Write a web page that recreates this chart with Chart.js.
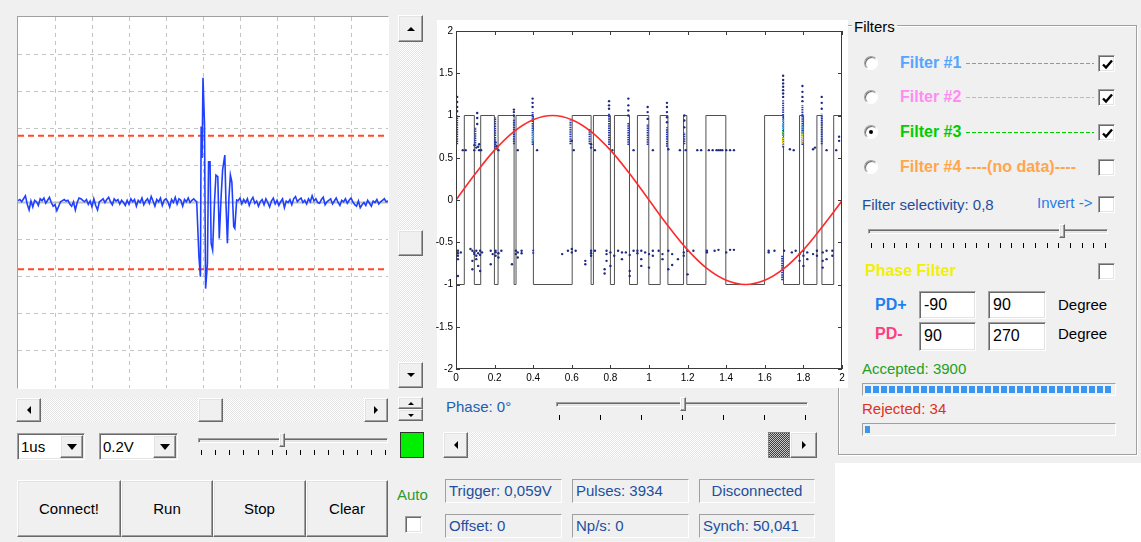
<!DOCTYPE html>
<html lang="en">
<head>
<meta charset="UTF-8">
<script src="https://cdn.jsdelivr.net/npm/chart.js"></script>
<title>Pulse analyser</title>
<style>
body{margin:0;width:1141px;height:542px;background:#f0f0f0;position:relative;overflow:hidden;font-family:"Liberation Sans",Arial,sans-serif;font-size:15px;color:#000}
.a{position:absolute;box-sizing:border-box}
.t{position:absolute;white-space:nowrap;line-height:18px}
.sunk{border:1px solid;border-color:#a0a0a0 #fff #fff #a0a0a0}
.sunk2{border:1px solid;border-color:#a0a0a0 #fff #fff #a0a0a0;box-shadow:inset 1px 1px 0 #696969,inset -1px -1px 0 #e3e3e3}
.raised{background:#f0f0f0;border:1px solid;border-color:#fff #696969 #696969 #fff;box-shadow:inset -1px -1px 0 #a0a0a0,inset 1px 1px 0 #e3e3e3}
.track{background:repeating-conic-gradient(#fff 0% 25%,#e4e4e4 0% 50%) 0 0/2px 2px}
.c{display:flex;align-items:center;justify-content:center}
.tu{width:0;height:0;border-left:4px solid transparent;border-right:4px solid transparent;border-bottom:4px solid #000}
.td{width:0;height:0;border-left:4px solid transparent;border-right:4px solid transparent;border-top:4px solid #000}
.tl{width:0;height:0;border-top:4px solid transparent;border-bottom:4px solid transparent;border-right:4px solid #000}
.tr{width:0;height:0;border-top:4px solid transparent;border-bottom:4px solid transparent;border-left:4px solid #000}
.cb{width:17px;height:17px;background:#fff}
.rd{width:14px;height:14px;border-radius:50%;background:#fff;border:1px solid;border-color:#a0a0a0 #fff #fff #a0a0a0;box-shadow:inset 1px 1px 0 #696969}
.stat{background:#f0f0f0;height:24px;padding-left:3px;line-height:22px;color:#1d4f9e;white-space:nowrap;overflow:hidden}
.fl{position:absolute;display:flex;white-space:nowrap;font-weight:bold;font-size:16px;line-height:18px;overflow:hidden}
.dash{flex:1;margin:9px 0 0 5px;height:1px;background:repeating-linear-gradient(90deg,currentColor 0 4px,transparent 4px 6px)}
.inp{background:#fff;font-size:16px;line-height:26px;padding-left:4px}
.pb{background:#f0f0f0}
</style>
</head>
<body>

<!-- oscilloscope -->
<div class="a sunk" style="left:17px;top:16px;width:372px;height:373px;background:#fff">
  <canvas id="scope" width="370" height="371" style="position:absolute;left:0;top:0"></canvas>
</div>

<!-- vertical scrollbar -->
<div class="a track" style="left:398px;top:15px;width:25px;height:373px"></div>
<div class="a raised c" style="left:398px;top:15px;width:25px;height:27px"><div class="tu"></div></div>
<div class="a raised" style="left:398px;top:230px;width:25px;height:26px"></div>
<div class="a raised c" style="left:398px;top:362px;width:25px;height:26px"><div class="td"></div></div>
<div class="a raised c" style="left:398px;top:397px;width:25px;height:12px"><div class="tu" style="border-width:0 3px 3px"></div></div>
<div class="a raised c" style="left:398px;top:409px;width:25px;height:12px"><div class="td" style="border-width:3px 3px 0"></div></div>
<div class="a" style="left:400px;top:432px;width:24px;height:26px;background:#00ee00;border:1px solid #303030"></div>

<!-- horizontal scrollbar left -->
<div class="a track" style="left:16px;top:398px;width:372px;height:24px"></div>
<div class="a raised c" style="left:16px;top:398px;width:25px;height:24px"><div class="tl"></div></div>
<div class="a raised" style="left:198px;top:398px;width:25px;height:24px"></div>
<div class="a raised c" style="left:364px;top:398px;width:24px;height:24px"><div class="tr"></div></div>

<!-- combos -->
<div class="a sunk2" style="left:17px;top:433px;width:68px;height:27px;background:#fff"><span class="t" style="left:3px;top:4px;font-size:15px">1us</span>
  <div class="a raised c" style="right:1px;top:1px;width:23px;height:23px"><div class="td" style="border-width:6px 5px 0"></div></div></div>
<div class="a sunk2" style="left:99px;top:433px;width:79px;height:27px;background:#fff"><span class="t" style="left:3px;top:4px;font-size:15px">0.2V</span>
  <div class="a raised c" style="right:1px;top:1px;width:23px;height:23px"><div class="td" style="border-width:6px 5px 0"></div></div></div>

<!-- buttons -->
<div class="a raised c" style="left:17px;top:480px;width:104px;height:57px">Connect!</div>
<div class="a raised c" style="left:121px;top:480px;width:92px;height:57px">Run</div>
<div class="a raised c" style="left:213px;top:480px;width:93px;height:57px">Stop</div>
<div class="a raised c" style="left:306px;top:480px;width:82px;height:57px">Clear</div>
<span class="t" style="left:397px;top:486px;color:#2e9a2e">Auto</span>
<div class="a cb sunk2" style="left:405px;top:516px"></div>

<!-- phase plot -->
<div class="a" style="left:437px;top:20px;width:411px;height:368px;background:#fff;z-index:2"></div>
<canvas id="phase" width="418" height="368" style="position:absolute;left:430px;top:20px;z-index:3"></canvas>

<span class="t" style="left:446px;top:398px;color:#2060b0">Phase: 0°</span>
<div class="a track" style="left:443px;top:432px;width:374px;height:26px"></div>
<div class="a raised c" style="left:443px;top:432px;width:25px;height:26px"><div class="tl"></div></div>
<div class="a" style="left:768px;top:432px;width:22px;height:26px;background:repeating-conic-gradient(#3c3c3c 0% 25%,#c8c8c8 0% 50%) 0 0/2px 2px;border:1px solid #808080"></div>
<div class="a raised c" style="left:790px;top:432px;width:27px;height:26px"><div class="tr"></div></div>

<div class="a sunk stat" style="left:445px;top:479px;width:117px">Trigger: 0,059V</div>
<div class="a sunk stat" style="left:572px;top:479px;width:117px">Pulses: 3934</div>
<div class="a sunk stat" style="left:699px;top:479px;width:116px;text-align:center;padding:0">Disconnected</div>
<div class="a sunk stat" style="left:445px;top:514px;width:117px">Offset: 0</div>
<div class="a sunk stat" style="left:572px;top:514px;width:117px">Np/s: 0</div>
<div class="a sunk stat" style="left:699px;top:514px;width:116px">Synch: 50,041</div>

<!-- filters -->
<div class="a" style="left:838px;top:25px;width:299px;height:430px;border:1px solid #a0a0a0;box-shadow:1px 1px 0 #fff,inset 1px 1px 0 #fff"></div>
<span class="t" style="left:852px;top:18px;background:#f0f0f0;padding:0 2px">Filters</span>

<span class="t" style="left:862px;top:196px;color:#1f4e9a">Filter selectivity: 0,8</span>
<span class="t" style="left:1037px;top:194px;color:#1e7ce8">Invert -&gt;</span>
<div class="a cb sunk2" style="left:1098px;top:196px"></div>
<span class="t" style="left:865px;top:262px;color:#f0f000;font-weight:bold;font-size:16px">Phase Filter</span>
<div class="a cb sunk2" style="left:1098px;top:263px"></div>

<span class="t" style="left:875px;top:296px;color:#1e7ff0;font-weight:bold;font-size:16px">PD+</span>
<div class="a sunk2 inp" style="left:919px;top:291px;width:57px;height:28px">-90</div>
<div class="a sunk2 inp" style="left:988px;top:291px;width:58px;height:28px">90</div>
<span class="t" style="left:1058px;top:296px">Degree</span>
<span class="t" style="left:875px;top:325px;color:#ff3d80;font-weight:bold;font-size:16px">PD-</span>
<div class="a sunk2 inp" style="left:919px;top:322px;width:57px;height:29px">90</div>
<div class="a sunk2 inp" style="left:988px;top:322px;width:58px;height:29px">270</div>
<span class="t" style="left:1058px;top:325px">Degree</span>

<span class="t" style="left:862px;top:360px;color:#22a022">Accepted: 3900</span>
<div class="a sunk pb" style="left:862px;top:383px;width:254px;height:13px;padding:2px">
  <div style="height:100%;width:100%;background:repeating-linear-gradient(90deg,#3a96ee 0 6px,transparent 6px 8px)"></div></div>
<span class="t" style="left:862px;top:400px;color:#e0301e">Rejected: 34</span>
<div class="a sunk pb" style="left:862px;top:423px;width:254px;height:13px;padding:2px">
  <div style="height:100%;width:5px;background:#3a96ee"></div></div>

<div class="a" style="left:835px;top:463px;width:306px;height:79px;background:#fff"></div>

<script>
// ---- oscilloscope trace (divisions) ----
var scopeStep = 0.05;
var preNoise = [0.05,0.08,0.02,0.1,0.18,-0.05,-0.2,0.04,-0.12,0.06,
  0.02,-0.08,0.1,0.05,0.12,-0.02,0.06,0.14,0.0,-0.1,
  -0.06,-0.22,-0.1,0.02,0.05,0.08,0.04,0.06,-0.04,-0.1,
  0.02,-0.2,0.0,0.12,0.1,0.06,0.02,0.08,-0.05,0.04,
  -0.12,0.1,-0.08,-0.2,0.02,0.06,0.1,0.0,0.08,0.14,
  0.02,-0.06,0.1,0.04,0.08,-0.04,0.06,0.0,-0.08,0.06,
  -0.05,0.1,0.02,0.08,-0.1,0.06,0.0,0.12,-0.06,0.04,
  0.1,-0.02,0.16,0.04,-0.1,0.08,0.02,0.12,-0.08,0.06,
  0.1,0.02,-0.12,0.08,0.0,0.14,-0.04,0.1,0.06,-0.1,
  0.08,0.02,0.12,0.0,0.06,0.1,0.04];
var preStart = 0;
var burstT = [4.83,4.89,4.93,4.95,4.975,5.0,5.04,5.07,5.12,5.15,5.19,5.22,5.26,5.31,5.35,5.40,5.44,5.49,5.53,5.59,5.62,5.66,5.70,5.74,5.78,5.83,5.86,5.91];
var burstV = [0.02,-1.46,-2.0,2.05,1.2,3.36,2.14,-2.32,-1.64,1.1,1.1,-1.1,-1.28,0.0,0.74,0.7,-0.97,0.16,0.88,1.28,0.0,-1.1,0.1,0.74,0.55,-0.65,-0.7,0.07];
var postNoise = [0.05,0.12,-0.04,0.08,0.0,0.1,-0.08,0.06,0.14,-0.02,
  0.04,-0.1,0.02,0.08,-0.06,0.1,0.0,-0.12,0.04,0.12,
  -0.04,0.06,-0.08,0.02,0.1,-0.14,0.04,0.0,0.08,-0.06,
  0.1,0.16,0.02,0.08,0.12,0.0,0.06,-0.04,0.1,0.02,
  0.18,0.04,0.1,0.0,-0.02,0.08,0.14,-0.06,0.02,0.06,
  0.1,-0.04,0.04,0.12,0.0,-0.08,0.06,0.02,0.1,-0.02,
  0.06,0.12,0.02,-0.06,-0.1,0.04,-0.14,-0.06,0.0,-0.08,
  0.06,-0.02,-0.1,0.04,0.0,0.08,-0.04,0.02,0.06,0.1,
  0.02,0.04];
var postStart = 5.95;
var triggerLevels = [1.8, -1.8];

// ---- phase plot ----
var phaseXTicks = ['0','0.2','0.4','0.6','0.8','1','1.2','1.4','1.6','1.8','2'];
var phaseYTicks = ['-2','-1.5','-1','-0.5','0','0.5','1','1.5','2'];
var sineX = [0,0.1,0.2,0.3,0.4,0.5,0.6,0.7,0.8,0.9,1,1.1,1.2,1.3,1.4,1.5,1.6,1.7,1.8,1.9,2];
var sineY = [0,0.31,0.59,0.81,0.95,1,0.95,0.81,0.59,0.31,0,-0.31,-0.59,-0.81,-0.95,-1,-0.95,-0.81,-0.59,-0.31,-0.01];
var squareEdges = [0.043,0.095,0.128,0.199,0.218,0.301,0.311,0.401,0.602,0.700,0.712,0.800,0.821,0.899,0.940,0.999,1.058,1.098,1.179,1.196,1.295,1.398,1.599,1.697,1.780,1.801,1.870,1.896,1.957];
var squareLevels = [-1,1,-1,1,-1,1,-1,1,-1,1,-1,1,-1,1,-1,1,-1,1,-1,1,-1,1,-1,1,-1,1,-1,1,-1,1];
var navyStreaks = [[0.006,0.66,1.0],[0.1,0.64,0.86],[0.203,0.62,0.98],[0.3,0.66,0.95],[0.397,0.65,1.04],
  [0.593,0.66,0.94],[0.692,0.66,0.84],[0.793,0.65,1.02],[0.893,0.65,0.92],[0.993,0.65,0.9],
  [1.093,0.63,0.86],[1.183,0.66,0.8],[1.695,0.62,1.18],[1.795,0.65,1.12],[1.895,0.66,1.02],
  [1.69,-0.66,-0.95],[0.4,-0.59,-0.64]];
var cyanStreaks = [[0.4,0.7,0.82],[1.695,0.84,0.96],[1.795,0.8,0.88]];
var yellowStreaks = [[1.695,0.64,0.74],[1.795,0.68,0.78]];
var greenStreaks = [[1.695,0.76,0.82],[1.795,0.78,0.8]];
var topDots = [[0.006,1.05],[0.006,1.1],[0.006,1.16],[0.006,1.22],[0.11,0.9],[0.11,0.97],[0.11,1.03],
  [0.3,1.0],[0.3,1.04],[0.3,1.07],[0.397,1.1],[0.397,1.15],[0.397,1.2],[0.793,1.08],[0.793,1.12],[0.793,1.17],
  [0.893,1.0],[0.893,1.06],[0.893,1.12],[0.893,1.2],[0.993,0.96],[0.993,1.04],[0.993,1.1],
  [1.093,0.92],[1.093,0.98],[1.093,1.04],[1.093,1.1],[1.093,1.15],[1.183,0.86],[1.183,0.94],[1.183,1.0],
  [1.695,1.22],[1.695,1.26],[1.695,1.3],[1.695,1.34],[1.695,1.38],[1.695,1.42],[1.695,1.47],
  [1.795,1.17],[1.795,1.22],[1.795,1.28],[1.795,1.35],[1.895,1.08],[1.895,1.15],[1.895,1.22],
  [1.985,0.7],[1.985,0.75],
  [0.035,0.59],[0.05,0.59],[0.095,0.59],[0.12,0.59],[0.13,0.59],[0.105,0.62],[0.22,0.59],[0.21,0.61],
  [0.32,0.59],[0.42,0.59],[0.61,0.59],[0.7,0.62],[0.72,0.59],[0.81,0.59],[0.92,0.59],[1.02,0.59],
  [1.1,0.6],[1.16,0.59],[1.19,0.59],[1.25,0.59],[1.27,0.59],[1.31,0.59],[1.33,0.59],[1.35,0.59],
  [1.36,0.59],[1.37,0.59],[1.38,0.59],[1.4,0.59],[1.42,0.59],[1.44,0.59],[1.73,0.6],[1.75,0.59],
  [1.85,0.6],[1.86,0.62],[1.92,0.59],[1.97,0.59],
  [0.095,0.65],[0.115,0.63],[0.12,0.66],[0.205,0.68],[0.21,0.64],[0.6,0.7],[0.7,0.66]];
var bottomDots = [[0.01,-0.6],[0.01,-0.63],[0.01,-0.66],[0.01,-0.7],[0.01,-0.9],[0.025,-0.62],
  [0.075,-0.58],[0.085,-0.6],[0.085,-0.72],[0.085,-0.82],[0.095,-0.62],[0.095,-0.64],[0.105,-0.6],
  [0.105,-0.66],[0.105,-0.7],[0.115,-0.63],[0.115,-0.78],[0.125,-0.6],[0.125,-0.65],[0.125,-0.84],[0.135,-0.62],
  [0.18,-0.6],[0.18,-0.76],[0.19,-0.64],[0.205,-0.6],[0.205,-0.62],[0.205,-0.66],[0.22,-0.63],[0.22,-0.68],[0.235,-0.6],
  [0.29,-0.76],[0.31,-0.6],[0.31,-0.64],[0.32,-0.62],[0.32,-0.68],[0.34,-0.6],[0.34,-0.63],
  [0.55,-0.64],[0.58,-0.6],[0.6,-0.62],[0.6,-0.58],[0.62,-0.6],
  [0.67,-0.72],[0.67,-0.76],[0.7,-0.6],[0.7,-0.63],[0.7,-0.66],[0.72,-0.6],
  [0.77,-0.82],[0.77,-0.87],[0.78,-0.6],[0.78,-0.64],[0.78,-0.72],[0.8,-0.62],[0.8,-0.78],[0.82,-0.66],
  [0.84,-0.6],[0.86,-0.62],[0.86,-0.7],[0.88,-0.62],[0.9,-0.65],[0.9,-0.84],[0.9,-0.9],[0.92,-0.6],
  [0.94,-0.6],[0.94,-0.63],[0.96,-0.6],[0.96,-0.7],[0.96,-0.78],[0.98,-0.62],[1.0,-0.64],[1.0,-0.8],[1.02,-0.6],[1.02,-0.66],
  [1.05,-0.6],[1.07,-0.64],[1.07,-0.7],[1.1,-0.6],[1.1,-0.82],[1.12,-0.64],[1.12,-0.77],
  [1.15,-0.7],[1.18,-0.62],[1.18,-0.66],[1.2,-0.6],[1.2,-0.88],[1.23,-0.6],
  [1.3,-0.6],[1.3,-0.62],[1.34,-0.6],[1.36,-0.59],[1.4,-0.62],[1.42,-0.59],[1.44,-0.59],
  [1.62,-0.6],[1.62,-0.62],[1.65,-0.6],[1.7,-0.6],
  [1.74,-0.62],[1.76,-0.6],[1.78,-0.64],[1.78,-0.72],[1.8,-0.6],[1.8,-0.66],[1.8,-0.78],[1.82,-0.62],[1.82,-0.7],
  [1.85,-0.64],[1.87,-0.6],[1.87,-0.66],[1.9,-0.62],[1.9,-0.72],[1.9,-0.8],[1.92,-0.6],[1.92,-0.7],[1.95,-0.6],[1.95,-0.66]];

// ---------- widgets that are not charts ----------
function el(html) { document.body.insertAdjacentHTML('beforeend', html); }
function slider(left, width, trackTop, thumbX, nTicks, tickTop) {
  el('<div class="a sunk2" style="left:' + left + 'px;top:' + trackTop + 'px;width:' + width + 'px;height:5px;background:#e8e8e8"></div>');
  el('<div class="a raised" style="left:' + (thumbX - 3) + 'px;top:' + (trackTop - 5) + 'px;width:6px;height:14px"></div>');
  for (var i = 0; i < nTicks; i++) {
    var x = Math.round(left + 3 + i * (width - 6) / (nTicks - 1));
    el('<div class="a" style="left:' + x + 'px;top:' + tickTop + 'px;width:1px;height:5px;background:#000"></div>');
  }
}
slider(198, 190, 438, 282, 14, 450);
slider(556, 252, 402, 683, 7, 415);
slider(868, 240, 229, 1062, 21, 243);

var filterRows = [
  {y: 63, label: 'Filter #1', dashes: true, color: '#55a5ff', checked: true, sel: false},
  {y: 97, label: 'Filter #2', dashes: true, color: '#ff8cf0', checked: true, sel: false},
  {y: 132, label: 'Filter #3', dashes: true, color: '#00cc00', checked: true, sel: true},
  {y: 167, label: 'Filter #4 ----(no data)----', dashes: false, color: '#ffa64d', checked: false, sel: false}
];
var tick = '<svg width="15" height="15" style="position:absolute;left:1px;top:1px"><path d="M3 7.5 L6 10.5 L12 3.5" stroke="#000" stroke-width="2.4" fill="none"/></svg>';
filterRows.forEach(function (r) {
  el('<div class="a rd" style="left:864px;top:' + (r.y - 7) + 'px">' +
    (r.sel ? '<div style="position:absolute;left:4px;top:4px;width:4px;height:4px;border-radius:50%;background:#000"></div>' : '') + '</div>');
  el('<div class="fl" style="left:900px;top:' + (r.y - 9) + 'px;width:194px;color:' + r.color + '"><span>' + r.label + '</span>' +
    (r.dashes ? '<span class="dash"></span>' : '') + '</div>');
  el('<div class="a cb sunk2" style="left:1098px;top:' + (r.y - 8) + 'px">' + (r.checked ? tick : '') + '</div>');
});

// ---------- oscilloscope chart ----------
var scopeTrace = [].concat(
  preNoise.map(function (v, i) { return {x: preStart + i * scopeStep, y: v}; }),
  burstT.map(function (t, i) { return {x: t, y: burstV[i]}; }),
  postNoise.map(function (v, i) { return {x: postStart + i * scopeStep, y: v}; })
);
function gridColor(lo, hi) {
  return function (c) { return (c.tick.value === lo || c.tick.value === hi) ? 'rgba(0,0,0,0)' : '#c4c4c4'; };
}
new Chart(document.getElementById('scope'), {
  type: 'line',
  data: {
    datasets: [
      {data: scopeTrace, borderColor: '#1f40ff', borderWidth: 1.6, pointRadius: 0},
      {data: [{x: 0, y: triggerLevels[0]}, {x: 10, y: triggerLevels[0]}], borderColor: '#ff4a2a', borderWidth: 2, borderDash: [6, 4], pointRadius: 0},
      {data: [{x: 0, y: triggerLevels[1]}, {x: 10, y: triggerLevels[1]}], borderColor: '#ff4a2a', borderWidth: 2, borderDash: [6, 4], pointRadius: 0},
      {data: [{x: 0, y: 0}, {x: 10, y: 0}], borderColor: '#bdbdbd', borderWidth: 2, pointRadius: 0}
    ]
  },
  options: {
    responsive: false, animation: false, events: [],
    layout: {padding: 0},
    plugins: {legend: {display: false}, tooltip: {enabled: false}},
    scales: {
      x: {type: 'linear', min: 0, max: 10, ticks: {display: false, stepSize: 1},
          grid: {color: gridColor(0, 10), drawTicks: false}, border: {display: false, dash: [4, 4]},
          afterFit: function (s) { s.height = 0; }},
      y: {type: 'linear', min: -5, max: 5, ticks: {display: false, stepSize: 1},
          grid: {color: gridColor(-5, 5), drawTicks: false}, border: {display: false, dash: [4, 4]},
          afterFit: function (s) { s.width = 0; }}
    }
  }
});

// ---------- phase chart ----------
function segments(list) {
  var pts = [];
  list.forEach(function (s) { pts.push({x: s[0], y: s[1]}, {x: s[0], y: s[2]}, {x: s[0], y: null}); });
  return pts;
}
var squarePts = squareLevels.map(function (lv, k) { return {x: k === 0 ? 0 : squareEdges[k - 1], y: lv}; });
squarePts.push({x: 2, y: squareLevels[squareLevels.length - 1]});

// box, inward tick marks and y labels, all placed through the scales
var boxTicks = {
  id: 'boxTicks',
  afterDraw: function (chart) {
    var ctx = chart.ctx, a = chart.chartArea, x = chart.scales.x, y = chart.scales.y;
    ctx.save();
    ctx.strokeStyle = '#3a3a3a';
    ctx.lineWidth = 1;
    ctx.strokeRect(Math.round(a.left) + 0.5, Math.round(a.top) + 0.5, Math.round(a.right - a.left) - 1, Math.round(a.bottom - a.top) - 1);
    ctx.beginPath();
    x.ticks.forEach(function (t) {
      var px = Math.round(x.getPixelForValue(t.value)) + 0.5;
      ctx.moveTo(px, a.bottom); ctx.lineTo(px, a.bottom - 4);
      ctx.moveTo(px, a.top); ctx.lineTo(px, a.top + 4);
    });
    y.ticks.forEach(function (t) {
      var py = Math.round(y.getPixelForValue(t.value)) + 0.5;
      ctx.moveTo(a.left, py); ctx.lineTo(a.left + 4, py);
      ctx.moveTo(a.right, py); ctx.lineTo(a.right - 4, py);
    });
    ctx.stroke();
    ctx.fillStyle = '#000';
    ctx.font = '10px "Liberation Sans", Arial, sans-serif';
    ctx.textAlign = 'right';
    ctx.textBaseline = 'middle';
    phaseYTicks.forEach(function (lab) {
      ctx.fillText(lab, a.left - 3, y.getPixelForValue(parseFloat(lab)));
    });
    ctx.restore();
  }
};

function streakSet(list, color) {
  return {data: segments(list), borderColor: color, borderWidth: 2, borderDash: [1.5, 0.8], pointRadius: 0, spanGaps: false};
}
new Chart(document.getElementById('phase'), {
  type: 'line',
  data: {
    datasets: [
      {data: sineX.map(function (v, i) { return {x: v, y: sineY[i]}; }), borderColor: '#ff2a2a', borderWidth: 1.6, pointRadius: 0, tension: 0.4},
      streakSet(yellowStreaks, '#e8e000'),
      streakSet(greenStreaks, '#40d040'),
      streakSet(cyanStreaks, '#30b8e8'),
      streakSet(navyStreaks, '#2538a8'),
      {type: 'scatter', data: topDots.concat(bottomDots).map(function (d) { return {x: d[0], y: d[1]}; }),
       backgroundColor: '#1e2a80', borderWidth: 0, pointRadius: 1.2},
      {data: squarePts, borderColor: '#505050', borderWidth: 1, pointRadius: 0, stepped: 'before'}
    ]
  },
  options: {
    responsive: false, animation: false, events: [],
    layout: {padding: {top: 11, right: 6, left: 0, bottom: 0}},
    plugins: {legend: {display: false}, tooltip: {enabled: false}},
    scales: {
      x: {type: 'linear', min: 0, max: 2,
          afterBuildTicks: function (s) { s.ticks = phaseXTicks.map(function (t) { return {value: parseFloat(t)}; }); },
          ticks: {font: {family: 'Liberation Sans', size: 10}, color: '#000', padding: 3, maxRotation: 0,
                  callback: function (v, i) { return phaseXTicks[i]; }},
          grid: {display: false, drawTicks: false}, border: {display: false},
          afterFit: function (s) { s.height = 19; }},
      y: {type: 'linear', min: -2, max: 2,
          afterBuildTicks: function (s) { s.ticks = phaseYTicks.map(function (t) { return {value: parseFloat(t)}; }); },
          ticks: {display: false},
          grid: {display: false, drawTicks: false}, border: {display: false},
          afterFit: function (s) { s.width = 26; }}
    }
  },
  plugins: [boxTicks]
});
</script>
</body>
</html>
